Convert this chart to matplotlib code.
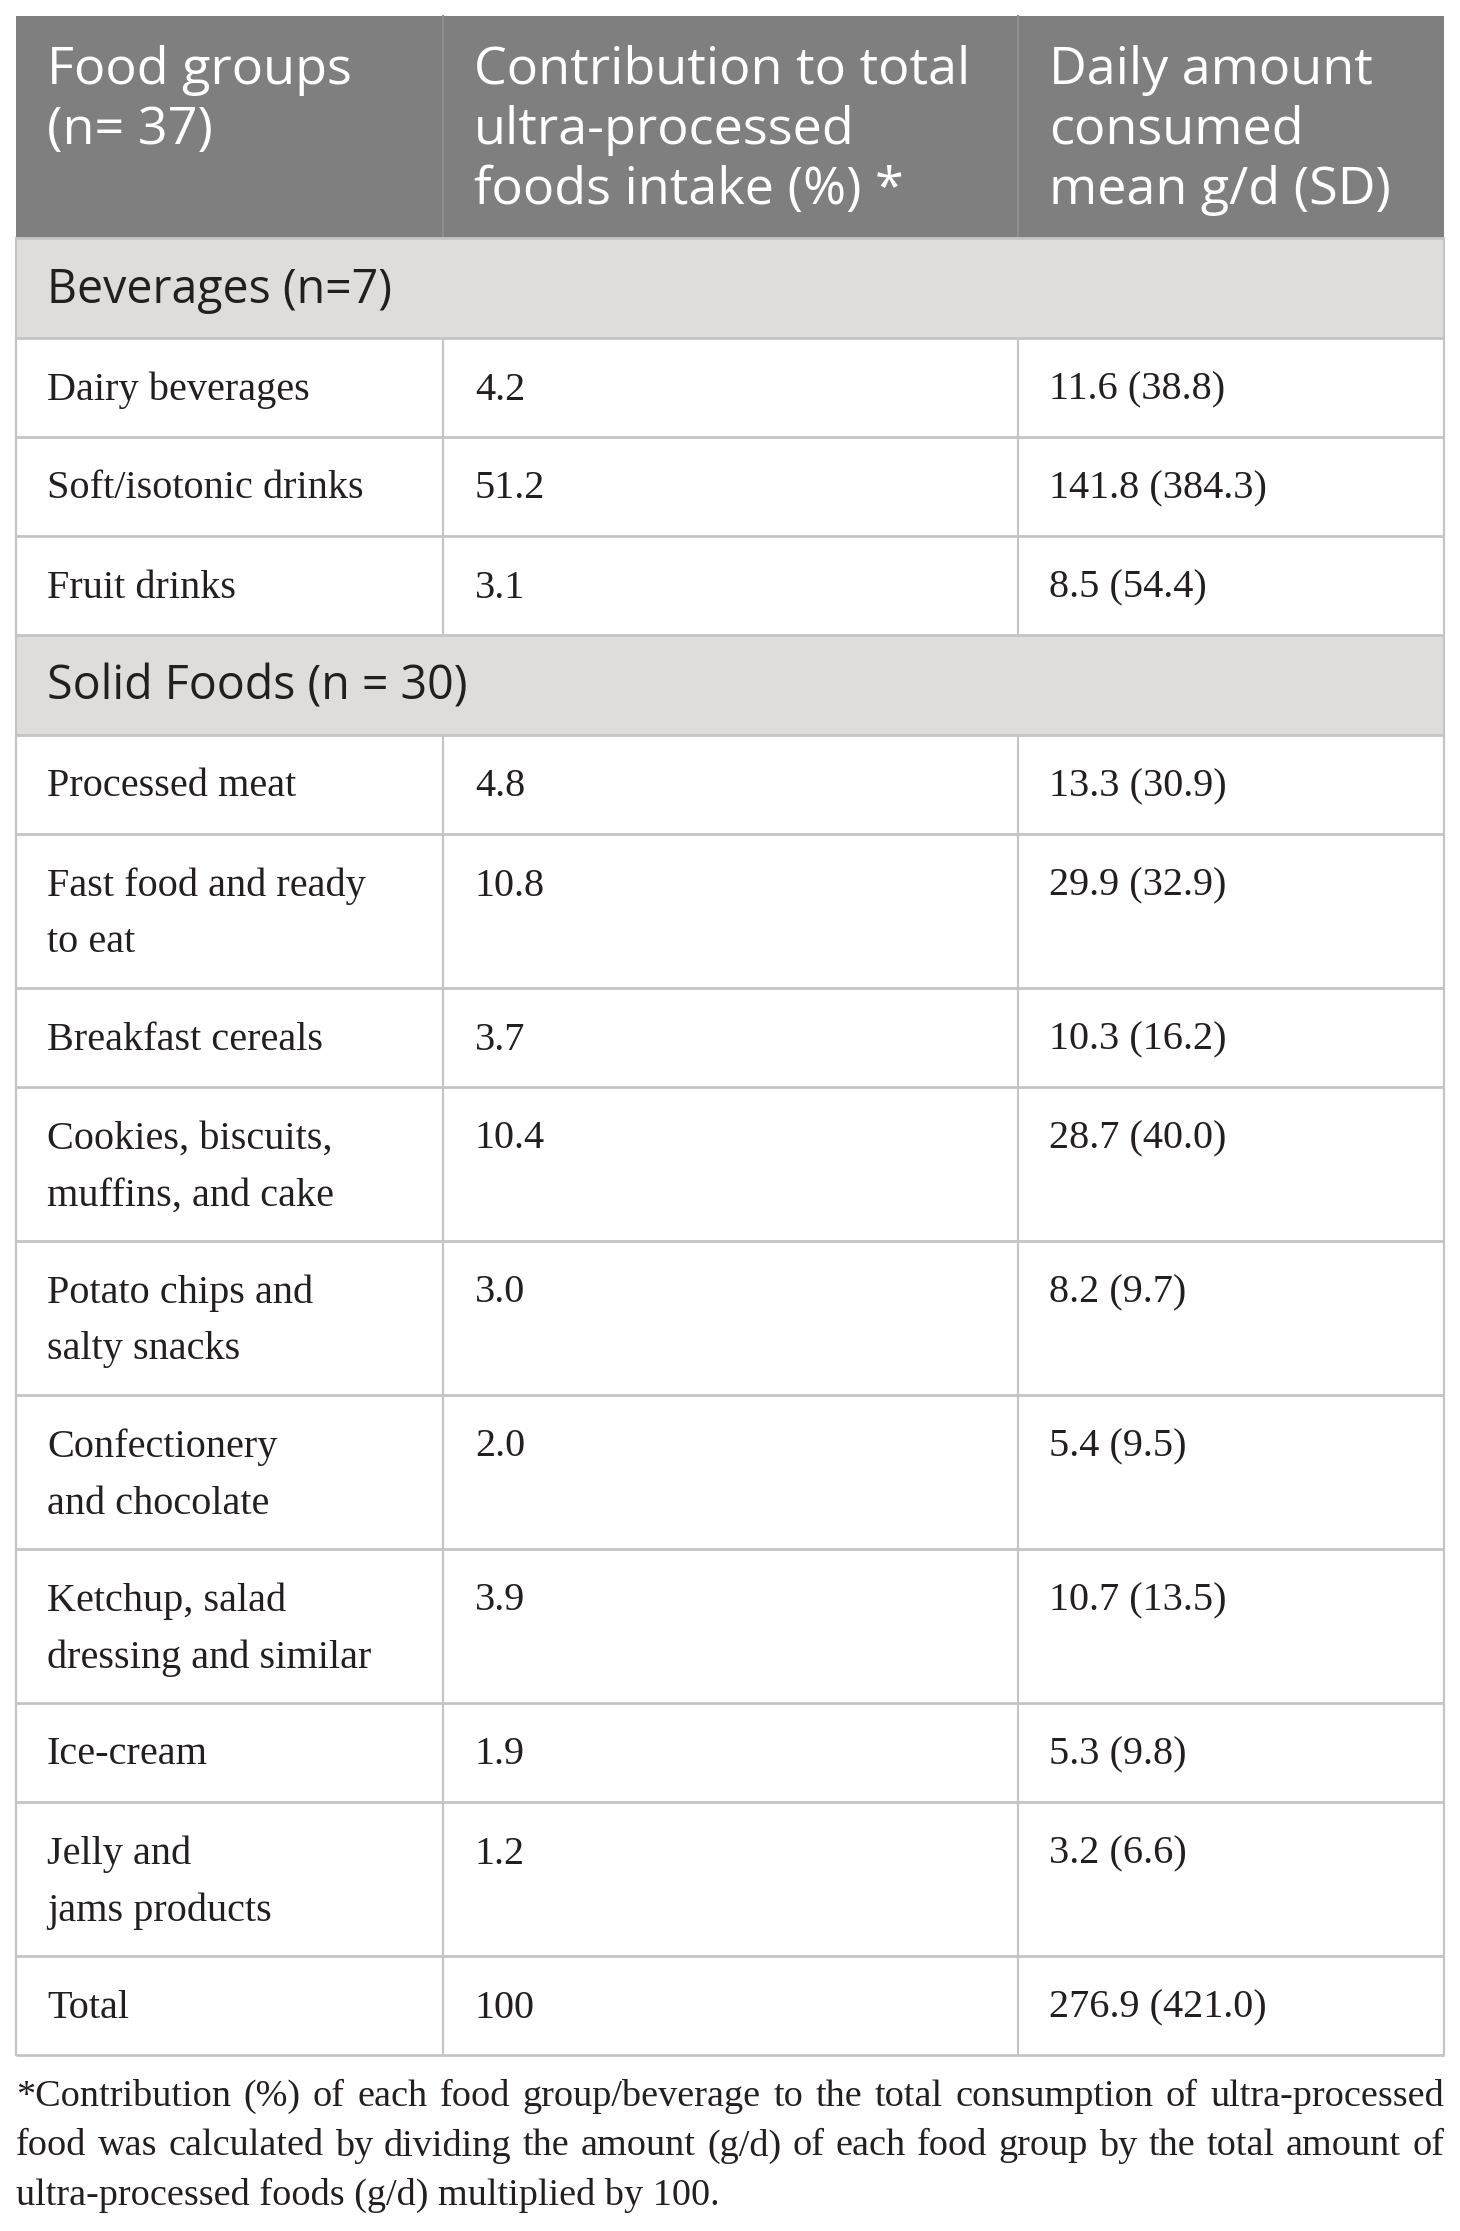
import matplotlib
matplotlib.use('Agg')
import matplotlib.pyplot as plt
from matplotlib.patches import Rectangle

# ---------------- data ----------------
header = [["Food groups", "(n= 37)"],
          ["Contribution to total", "ultra-processed", "foods intake (%) *"],
          ["Daily amount", "consumed", "mean g/d (SD)"]]
sections = ["Beverages (n=7)", "Solid Foods (n = 30)"]

bev_groups = [["Dairy beverages"], ["Soft/isotonic drinks"], ["Fruit drinks"]]
bev_contrib = ["4.2", "51.2", "3.1"]
bev_amount = ["11.6 (38.8)", "141.8 (384.3)", "8.5 (54.4)"]

solid_groups = [["Processed meat"],
                ["Fast food and ready", "to eat"],
                ["Breakfast cereals"],
                ["Cookies, biscuits,", "muffins, and cake"],
                ["Potato chips and", "salty snacks"],
                ["Confectionery", "and chocolate"],
                ["Ketchup, salad", "dressing and similar"],
                ["Ice-cream"],
                ["Jelly and", "jams products"]]
solid_contrib = ["4.8", "10.8", "3.7", "10.4", "3.0", "2.0", "3.9", "1.9", "1.2"]
solid_amount = ["13.3 (30.9)", "29.9 (32.9)", "10.3 (16.2)", "28.7 (40.0)", "8.2 (9.7)",
                "5.4 (9.5)", "10.7 (13.5)", "5.3 (9.8)", "3.2 (6.6)"]

total_row = ["Total", "100", "276.9 (421.0)"]

footnote_lines = [
    "*Contribution (%) of each food group/beverage to the total consumption of ultra-processed",
    "food was calculated by dividing the amount (g/d) of each food group by the total amount of",
    "ultra-processed foods (g/d) multiplied by 100.",
]

# ---------------- layout ----------------
W, H = 1460, 2231
fig = plt.figure(figsize=(W / 100, H / 100), dpi=100)
ax = fig.add_axes([0, 0, 1, 1])
ax.set_xlim(0, W)
ax.set_ylim(H, 0)
ax.axis('off')

LEFT, RIGHT = 16, 1444
COLS = [LEFT, 443, 1018, RIGHT]
PAD_X = 31
LINE_COLOR = '#c4c4c4'
HEADER_BG = '#7f7f7f'
SECTION_BG = '#dfdddc'
TEXT = '#231f20'
SANS = ['Open Sans', 'DejaVu Sans']
SERIF = ['Liberation Serif', 'DejaVu Serif']

HEAD_FS = 37.5
SEC_FS = 33.5
BODY_FS = 29
FOOT_FS = 27.5

y = 16
# header
head_h = 222
ax.add_patch(Rectangle((LEFT, y), RIGHT - LEFT, head_h, facecolor=HEADER_BG, edgecolor='none'))
for c in range(3):
    for k, line in enumerate(header[c]):
        ax.text(COLS[c] + PAD_X, y + 54 + 60 * k, line, family=SANS, fontsize=HEAD_FS,
                color='white', va='center', ha='left')
for cx in COLS[1:3]:
    ax.plot([cx, cx], [y, y + head_h], color='#8e8e8e', lw=1.5)
y += head_h

row_lines = []  # horizontal lines y positions
vert_segments = []


def section(title):
    global y
    h = 100
    ax.add_patch(Rectangle((LEFT, y), RIGHT - LEFT, h, facecolor=SECTION_BG, edgecolor='none'))
    ax.text(LEFT + PAD_X, y + h / 2 + 2, title, family=SANS, fontsize=SEC_FS, color=TEXT,
            va='center', ha='left')
    row_lines.append(y)
    y += h


def body_row(label_lines, contrib, amount):
    global y
    n = len(label_lines)
    h = 99 + 55 * (n - 1)
    for k, line in enumerate(label_lines):
        ax.text(COLS[0] + PAD_X, y + 52 + 57 * k, line, family=SERIF, fontsize=BODY_FS,
                color=TEXT, va='center', ha='left')
    ax.text(COLS[1] + PAD_X + 1, y + 52, contrib, family=SERIF, fontsize=BODY_FS,
            color=TEXT, va='center', ha='left')
    ax.text(COLS[2] + PAD_X, y + 52, amount, family=SERIF, fontsize=BODY_FS,
            color=TEXT, va='center', ha='left')
    row_lines.append(y)
    vert_segments.append((y, y + h))
    y += h


section(sections[0])
for g, c, a in zip(bev_groups, bev_contrib, bev_amount):
    body_row(g, c, a)
section(sections[1])
for g, c, a in zip(solid_groups, solid_contrib, solid_amount):
    body_row(g, c, a)
body_row([total_row[0]], total_row[1], total_row[2])
table_bottom = y
row_lines.append(y)

for ly in row_lines:
    ax.plot([LEFT, RIGHT], [ly, ly], color=LINE_COLOR, lw=2, solid_capstyle='butt')
for (y0, y1) in vert_segments:
    for cx in COLS:
        ax.plot([cx, cx], [y0, y1], color=LINE_COLOR, lw=1.5, solid_capstyle='butt')
ax.plot([LEFT, LEFT], [238, table_bottom], color=LINE_COLOR, lw=1.5)
ax.plot([RIGHT, RIGHT], [238, table_bottom], color=LINE_COLOR, lw=1.5)

# footnote, justified
renderer = fig.canvas.get_renderer()
fy = table_bottom + 42
FX0, FX1 = 16, 1444
for i, line in enumerate(footnote_lines):
    words = line.split(' ')
    widths = []
    for w in words:
        t = ax.text(0, 0, w, family=SERIF, fontsize=FOOT_FS)
        widths.append(t.get_window_extent(renderer).width)
        t.remove()
    if i == len(footnote_lines) - 1:
        ax.text(FX0, fy, line, family=SERIF, fontsize=FOOT_FS, color=TEXT, va='center', ha='left')
    else:
        gap = (FX1 - FX0 - sum(widths)) / (len(words) - 1)
        x = FX0
        for w, wd in zip(words, widths):
            ax.text(x, fy, w, family=SERIF, fontsize=FOOT_FS, color=TEXT, va='center', ha='left')
            x += wd + gap
    fy += 49

fig.savefig('out.png', dpi=100)
